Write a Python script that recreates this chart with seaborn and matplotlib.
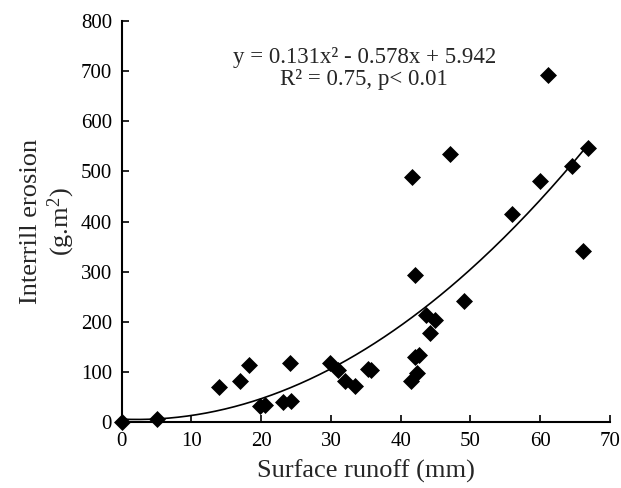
import numpy as np
import pandas as pd
import matplotlib
matplotlib.use("Agg")
import matplotlib.pyplot as plt
import seaborn as sns

# surface runoff (mm) and interrill erosion (g.m2)
runoff = [0, 5.1, 14.0, 17.0, 18.2, 19.9, 20.6, 23.1, 24.2, 24.3,
          29.9, 31.0, 32.0, 33.4, 35.3, 35.7, 41.5, 42.3, 42.0, 42.6,
          43.6, 44.2, 45.0, 49.1, 42.0, 41.7, 47.1, 55.9, 60.0, 64.6,
          66.9, 66.2, 61.1]
erosion = [0, 6, 70, 82, 113, 32, 35, 40, 117, 43,
           117, 104, 82, 72, 106, 103, 82, 98, 130, 134,
           213, 178, 204, 241, 294, 489, 535, 415, 480, 511,
           546, 341, 692]

# quadratic trend shown on the chart: y = a*x^2 + b*x + c
coef = [0.131, -0.578, 5.942]

df = pd.DataFrame({"runoff": runoff, "erosion": erosion})
xs = np.linspace(0, max(runoff), 200)
fit = pd.DataFrame({"x": xs, "y": np.polyval(coef, xs)})

sns.set_style("ticks")
plt.rcParams["font.family"] = ["Liberation Serif", "DejaVu Serif"]
plt.rcParams["mathtext.fontset"] = "custom"
plt.rcParams["mathtext.rm"] = "Liberation Serif"

fig = plt.figure(figsize=(6.21, 4.88), dpi=100)
ax = fig.add_axes([0.196, 0.135, 0.786, 0.822])

sns.lineplot(data=fit, x="x", y="y", color="black", linewidth=1.2, ax=ax)
sns.scatterplot(data=df, x="runoff", y="erosion", marker="D", color="black",
                s=75, edgecolor="black", linewidth=0, zorder=3, clip_on=False, ax=ax)

ax.set_xlim(0, 70)
ax.set_ylim(0, 800)
ax.set_xticks(range(0, 71, 10))
ax.set_yticks(range(0, 801, 100))
ax.tick_params(direction="in", length=5, width=1.2, labelsize=15, colors="black", pad=7)
for s in ["left", "bottom"]:
    ax.spines[s].set_linewidth(1.5)
    ax.spines[s].set_color("black")
sns.despine(ax=ax)

ax.set_xlabel("Surface runoff (mm)", fontsize=19, labelpad=6)
ax.set_ylabel("Interrill erosion\n(g.m$\\mathrm{^2}$)", fontsize=19, labelpad=3, linespacing=1.15)

ax.text(34.8, 706, "y = 0.131x² - 0.578x + 5.942\nR² = 0.75, p< 0.01",
        ha="center", va="center", fontsize=16.5, linespacing=1.05)

fig.savefig("out.png", dpi=100)
